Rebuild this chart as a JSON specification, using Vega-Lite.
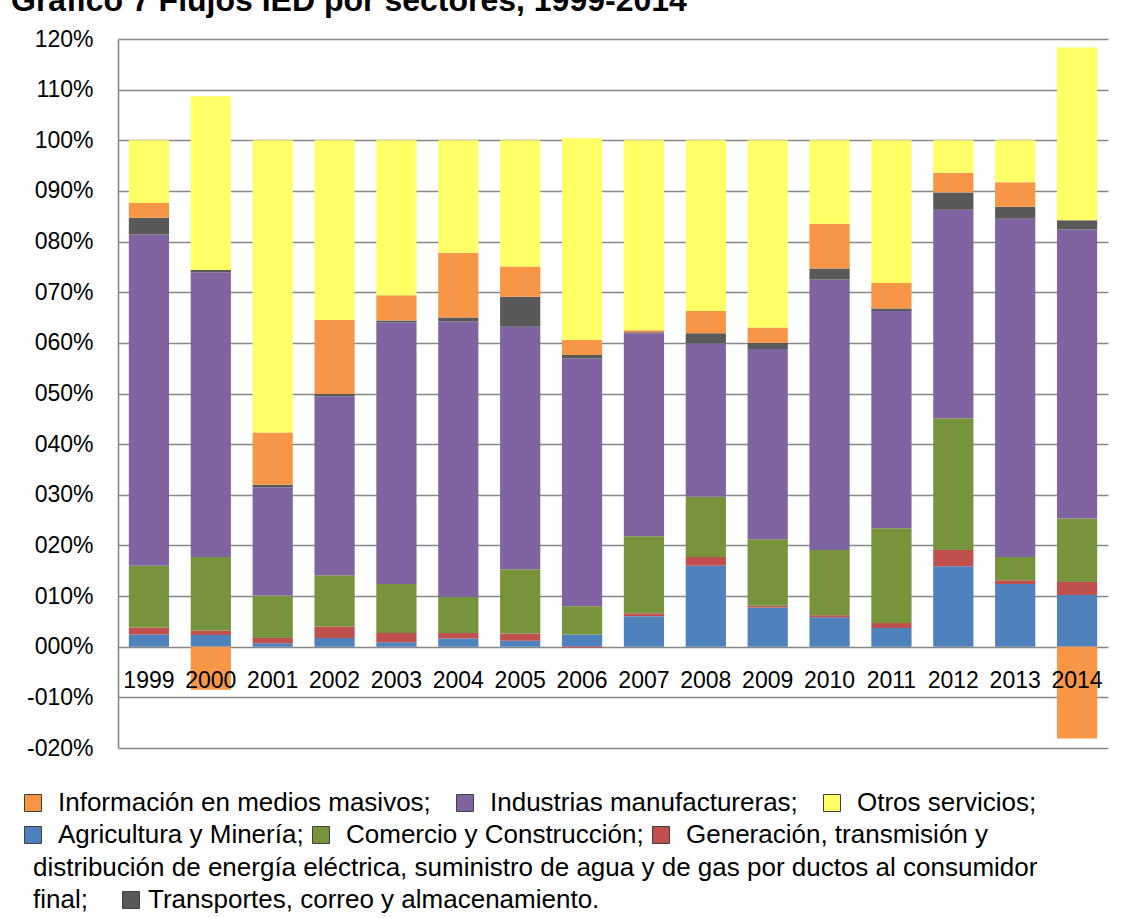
{
  "$schema": "https://vega.github.io/schema/vega-lite/v6.json",
  "width": 990,
  "height": 709,
  "autosize": "none",
  "padding": {"left": 118, "top": 39, "right": 21, "bottom": 170},
  "background": "white",
  "title": {
    "text": "Gráfico 7 Flujos IED por sectores, 1999-2014",
    "anchor": "start",
    "frame": "group",
    "dx": -107,
    "offset": 10,
    "fontSize": 32,
    "fontWeight": "bold",
    "font": "Liberation Sans",
    "color": "black"
  },
  "config": {
    "view": {"stroke": null},
    "font": "Liberation Sans",
    "legend": {
      "labelFont": "Liberation Sans",
      "labelFontSize": 26,
      "labelColor": "black",
      "labelLimit": 1200,
      "titleFont": "Liberation Sans",
      "titleFontSize": 26,
      "titleFontWeight": "normal",
      "titleColor": "black",
      "titleLimit": 1200,
      "symbolType": "square",
      "symbolSize": 289,
      "symbolStrokeColor": "#404040",
      "symbolStrokeWidth": 1,
      "labelOffset": 12,
      "orient": "none",
      "direction": "horizontal",
      "padding": 0
    }
  },
  "datasets": {
    "sectores": [
      {"sector": "Agricultura y Minería", "orden": 1},
      {"sector": "Generación", "orden": 2},
      {"sector": "Comercio y Construcción", "orden": 3},
      {"sector": "Industrias manufactureras", "orden": 4},
      {"sector": "Transportes, correo y almacenamiento", "orden": 5},
      {"sector": "Información en medios masivos", "orden": 6},
      {"sector": "Otros servicios", "orden": 7}
    ]
  },
  "data": {
    "values": [
      {"year": "1999", "sector": "Agricultura y Minería", "value": 2.4},
      {"year": "1999", "sector": "Generación", "value": 1.4},
      {"year": "1999", "sector": "Comercio y Construcción", "value": 12.2},
      {"year": "1999", "sector": "Industrias manufactureras", "value": 65.4},
      {"year": "1999", "sector": "Transportes, correo y almacenamiento", "value": 3.3},
      {"year": "1999", "sector": "Información en medios masivos", "value": 2.9},
      {"year": "1999", "sector": "Otros servicios", "value": 12.4},
      {"year": "2000", "sector": "Agricultura y Minería", "value": 2.3},
      {"year": "2000", "sector": "Generación", "value": 0.9},
      {"year": "2000", "sector": "Comercio y Construcción", "value": 14.5},
      {"year": "2000", "sector": "Industrias manufactureras", "value": 56.2},
      {"year": "2000", "sector": "Transportes, correo y almacenamiento", "value": 0.5},
      {"year": "2000", "sector": "Información en medios masivos", "value": -8.5},
      {"year": "2000", "sector": "Otros servicios", "value": 34.3},
      {"year": "2001", "sector": "Agricultura y Minería", "value": 0.7},
      {"year": "2001", "sector": "Generación", "value": 1.0},
      {"year": "2001", "sector": "Comercio y Construcción", "value": 8.4},
      {"year": "2001", "sector": "Industrias manufactureras", "value": 21.4},
      {"year": "2001", "sector": "Transportes, correo y almacenamiento", "value": 0.5},
      {"year": "2001", "sector": "Información en medios masivos", "value": 10.3},
      {"year": "2001", "sector": "Otros servicios", "value": 57.7},
      {"year": "2002", "sector": "Agricultura y Minería", "value": 1.7},
      {"year": "2002", "sector": "Generación", "value": 2.3},
      {"year": "2002", "sector": "Comercio y Construcción", "value": 10.1},
      {"year": "2002", "sector": "Industrias manufactureras", "value": 35.3},
      {"year": "2002", "sector": "Transportes, correo y almacenamiento", "value": 0.5},
      {"year": "2002", "sector": "Información en medios masivos", "value": 14.6},
      {"year": "2002", "sector": "Otros servicios", "value": 35.5},
      {"year": "2003", "sector": "Agricultura y Minería", "value": 0.9},
      {"year": "2003", "sector": "Generación", "value": 1.8},
      {"year": "2003", "sector": "Comercio y Construcción", "value": 9.7},
      {"year": "2003", "sector": "Industrias manufactureras", "value": 51.6},
      {"year": "2003", "sector": "Transportes, correo y almacenamiento", "value": 0.4},
      {"year": "2003", "sector": "Información en medios masivos", "value": 5.0},
      {"year": "2003", "sector": "Otros servicios", "value": 30.6},
      {"year": "2004", "sector": "Agricultura y Minería", "value": 1.6},
      {"year": "2004", "sector": "Generación", "value": 1.1},
      {"year": "2004", "sector": "Comercio y Construcción", "value": 7.1},
      {"year": "2004", "sector": "Industrias manufactureras", "value": 54.4},
      {"year": "2004", "sector": "Transportes, correo y almacenamiento", "value": 0.8},
      {"year": "2004", "sector": "Información en medios masivos", "value": 12.8},
      {"year": "2004", "sector": "Otros servicios", "value": 22.2},
      {"year": "2005", "sector": "Agricultura y Minería", "value": 1.2},
      {"year": "2005", "sector": "Generación", "value": 1.4},
      {"year": "2005", "sector": "Comercio y Construcción", "value": 12.7},
      {"year": "2005", "sector": "Industrias manufactureras", "value": 47.9},
      {"year": "2005", "sector": "Transportes, correo y almacenamiento", "value": 5.9},
      {"year": "2005", "sector": "Información en medios masivos", "value": 6.0},
      {"year": "2005", "sector": "Otros servicios", "value": 24.9},
      {"year": "2006", "sector": "Agricultura y Minería", "value": 2.4},
      {"year": "2006", "sector": "Generación", "value": -0.2},
      {"year": "2006", "sector": "Comercio y Construcción", "value": 5.6},
      {"year": "2006", "sector": "Industrias manufactureras", "value": 48.9},
      {"year": "2006", "sector": "Transportes, correo y almacenamiento", "value": 0.7},
      {"year": "2006", "sector": "Información en medios masivos", "value": 2.95},
      {"year": "2006", "sector": "Otros servicios", "value": 39.85},
      {"year": "2007", "sector": "Agricultura y Minería", "value": 6.0},
      {"year": "2007", "sector": "Generación", "value": 0.6},
      {"year": "2007", "sector": "Comercio y Construcción", "value": 15.2},
      {"year": "2007", "sector": "Industrias manufactureras", "value": 40.1},
      {"year": "2007", "sector": "Transportes, correo y almacenamiento", "value": 0.2},
      {"year": "2007", "sector": "Información en medios masivos", "value": 0.4},
      {"year": "2007", "sector": "Otros servicios", "value": 37.5},
      {"year": "2008", "sector": "Agricultura y Minería", "value": 16.0},
      {"year": "2008", "sector": "Generación", "value": 1.7},
      {"year": "2008", "sector": "Comercio y Construcción", "value": 11.9},
      {"year": "2008", "sector": "Industrias manufactureras", "value": 30.3},
      {"year": "2008", "sector": "Transportes, correo y almacenamiento", "value": 2.0},
      {"year": "2008", "sector": "Información en medios masivos", "value": 4.4},
      {"year": "2008", "sector": "Otros servicios", "value": 33.7},
      {"year": "2009", "sector": "Agricultura y Minería", "value": 7.75},
      {"year": "2009", "sector": "Generación", "value": 0.35},
      {"year": "2009", "sector": "Comercio y Construcción", "value": 13.1},
      {"year": "2009", "sector": "Industrias manufactureras", "value": 37.6},
      {"year": "2009", "sector": "Transportes, correo y almacenamiento", "value": 1.2},
      {"year": "2009", "sector": "Información en medios masivos", "value": 3.05},
      {"year": "2009", "sector": "Otros servicios", "value": 36.95},
      {"year": "2010", "sector": "Agricultura y Minería", "value": 5.8},
      {"year": "2010", "sector": "Generación", "value": 0.4},
      {"year": "2010", "sector": "Comercio y Construcción", "value": 12.9},
      {"year": "2010", "sector": "Industrias manufactureras", "value": 53.4},
      {"year": "2010", "sector": "Transportes, correo y almacenamiento", "value": 2.2},
      {"year": "2010", "sector": "Información en medios masivos", "value": 8.8},
      {"year": "2010", "sector": "Otros servicios", "value": 16.5},
      {"year": "2011", "sector": "Agricultura y Minería", "value": 3.7},
      {"year": "2011", "sector": "Generación", "value": 1.0},
      {"year": "2011", "sector": "Comercio y Construcción", "value": 18.7},
      {"year": "2011", "sector": "Industrias manufactureras", "value": 42.9},
      {"year": "2011", "sector": "Transportes, correo y almacenamiento", "value": 0.5},
      {"year": "2011", "sector": "Información en medios masivos", "value": 5.0},
      {"year": "2011", "sector": "Otros servicios", "value": 28.2},
      {"year": "2012", "sector": "Agricultura y Minería", "value": 15.9},
      {"year": "2012", "sector": "Generación", "value": 3.2},
      {"year": "2012", "sector": "Comercio y Construcción", "value": 26.0},
      {"year": "2012", "sector": "Industrias manufactureras", "value": 41.2},
      {"year": "2012", "sector": "Transportes, correo y almacenamiento", "value": 3.4},
      {"year": "2012", "sector": "Información en medios masivos", "value": 3.9},
      {"year": "2012", "sector": "Otros servicios", "value": 6.4},
      {"year": "2013", "sector": "Agricultura y Minería", "value": 12.4},
      {"year": "2013", "sector": "Generación", "value": 0.7},
      {"year": "2013", "sector": "Comercio y Construcción", "value": 4.6},
      {"year": "2013", "sector": "Industrias manufactureras", "value": 66.8},
      {"year": "2013", "sector": "Transportes, correo y almacenamiento", "value": 2.4},
      {"year": "2013", "sector": "Información en medios masivos", "value": 4.8},
      {"year": "2013", "sector": "Otros servicios", "value": 8.3},
      {"year": "2014", "sector": "Agricultura y Minería", "value": 10.2},
      {"year": "2014", "sector": "Generación", "value": 2.6},
      {"year": "2014", "sector": "Comercio y Construcción", "value": 12.5},
      {"year": "2014", "sector": "Industrias manufactureras", "value": 57.1},
      {"year": "2014", "sector": "Transportes, correo y almacenamiento", "value": 1.8},
      {"year": "2014", "sector": "Información en medios masivos", "value": -18.1},
      {"year": "2014", "sector": "Otros servicios", "value": 34.1}
    ]
  },
  "layer": [
    {
      "transform": [
        {"lookup": "sector", "from": {"data": {"name": "sectores"}, "key": "sector", "fields": ["orden"]}}
      ],
      "mark": {"type": "bar"},
      "encoding": {
        "x": {
          "field": "year",
          "type": "ordinal",
          "scale": {"paddingInner": 0.35, "paddingOuter": 0.175},
          "axis": {
            "title": null,
            "labelAngle": 0,
            "offset": -101,
            "domain": false,
            "ticks": false,
            "grid": false,
            "zindex": 1,
            "labelPadding": 22,
            "labelFontSize": 23,
            "labelColor": "black",
            "labelFont": "Liberation Sans"
          }
        },
        "y": {
          "field": "value",
          "type": "quantitative",
          "stack": "zero",
          "scale": {"domain": [-20, 120], "nice": false},
          "axis": {
            "title": null,
            "values": [-20, -10, 0, 10, 20, 30, 40, 50, 60, 70, 80, 90, 100, 110, 120],
            "labelExpr": "(datum.value < 0 ? '-' : '') + format(abs(datum.value) / 100, '04.0%')",
            "grid": true,
            "gridColor": "#878787",
            "gridWidth": 1.6,
            "domain": true,
            "domainColor": "#878787",
            "domainWidth": 1.6,
            "ticks": false,
            "labelPadding": 25,
            "labelFontSize": 23,
            "labelColor": "black",
            "labelFont": "Liberation Sans"
          }
        },
        "order": {"field": "orden", "type": "quantitative", "sort": "ascending"},
        "color": {
          "field": "sector",
          "type": "nominal",
          "scale": {
            "domain": ["Agricultura y Minería", "Generación", "Comercio y Construcción", "Industrias manufactureras", "Transportes, correo y almacenamiento", "Información en medios masivos", "Otros servicios"],
            "range": ["#4F81BD", "#C0504D", "#77933C", "#8064A2", "#595959", "#F79646", "#FFFF66"]
          },
          "legend": {
            "title": null,
            "legendX": -98,
            "legendY": 751,
            "values": ["Información en medios masivos", "Industrias manufactureras", "Otros servicios"],
            "labelExpr": "datum.label + ';'",
            "columnPadding": 21
          }
        }
      }
    },
    {
      "transform": [{"filter": "false"}],
      "mark": {"type": "bar"},
      "encoding": {
        "color": {
          "field": "sector",
          "type": "nominal",
          "scale": {"domain": ["Agricultura y Minería", "Comercio y Construcción", "Generación"], "range": ["#4F81BD", "#77933C", "#C0504D"]},
          "legend": {
            "title": null,
            "legendX": -98,
            "legendY": 783,
            "labelExpr": "datum.label == 'Agricultura y Minería' ? '\u00a0\u00a0Agricultura y Minería;' : (datum.label == 'Generación' ? 'Generación, transmisión y' : datum.label + ';\u00a0\u00a0\u00a0\u00a0\u00a0')",
            "columnPadding": 4
          }
        }
      }
    },
    {
      "transform": [{"filter": "false"}],
      "mark": {"type": "bar"},
      "encoding": {
        "color": {
          "field": "sector",
          "type": "nominal",
          "scale": {"domain": ["línea"], "range": ["transparent"]},
          "legend": {
            "title": "distribución de energía eléctrica, suministro de agua y de gas por ductos al consumidor",
            "titleOrient": "left",
            "titlePadding": 0,
            "legendX": -85,
            "legendY": 816,
            "labelExpr": "''",
            "symbolStrokeWidth": 0,
            "symbolSize": 1
          }
        }
      }
    },
    {
      "transform": [{"filter": "false"}],
      "mark": {"type": "bar"},
      "encoding": {
        "color": {
          "field": "sector",
          "type": "nominal",
          "scale": {"domain": ["Transportes, correo y almacenamiento"], "range": ["#595959"]},
          "legend": {
            "title": "final;",
            "titleOrient": "left",
            "titlePadding": 30,
            "legendX": -85,
            "legendY": 848,
            "labelExpr": "datum.label + '.'",
            "labelOffset": 4
          }
        }
      }
    }
  ],
  "resolve": {"scale": {"color": "independent"}}
}
